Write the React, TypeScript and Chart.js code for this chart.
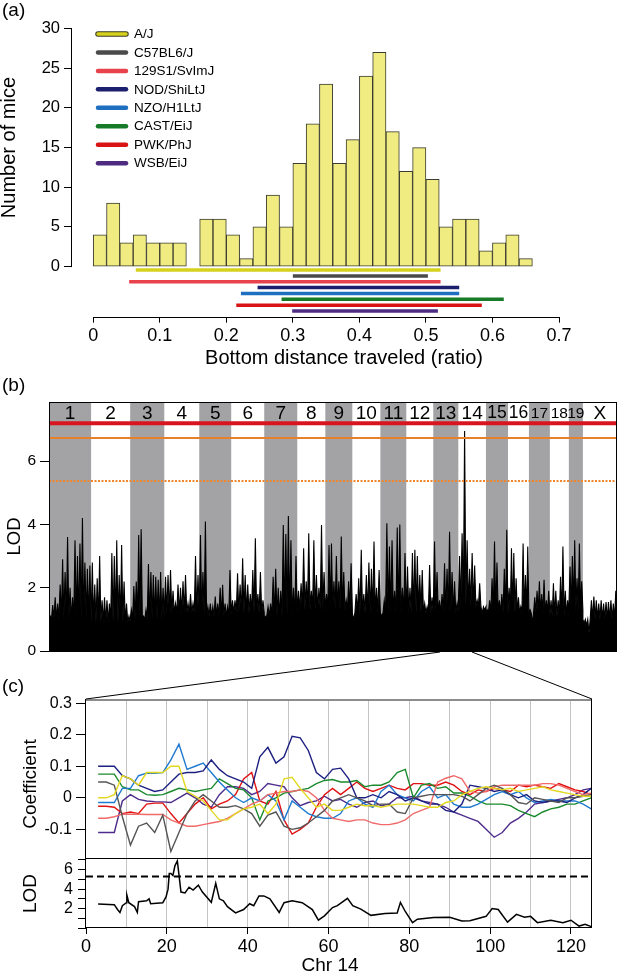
import React, { useEffect, useRef } from 'react';
import { Chart, registerables } from 'chart.js';

Chart.register(...registerables);

const FONT = "'Liberation Sans', Arial, Helvetica, sans-serif";

// ---------------- Panel (a): histogram + strain ranges ----------------
const histBinStart = 0;
const histBinWidth = 0.02;
const histCounts = [4, 8, 3, 4, 3, 3, 3, 0, 6, 6, 4, 1, 5, 9, 5, 13, 18, 23, 13, 16, 24, 27, 17, 12, 15, 11, 5, 6, 6, 2, 3, 4, 1];
const histXTicks = [0, 0.1, 0.2, 0.3, 0.4, 0.5, 0.6, 0.7];
const histYTicks = [0, 5, 10, 15, 20, 25, 30];
const strainNames = ['A/J', 'C57BL6/J', '129S1/SvImJ', 'NOD/ShiLtJ', 'NZO/H1LtJ', 'CAST/EiJ', 'PWK/PhJ', 'WSB/EiJ'];
const strainColors = ['#d6d11c', '#4a4a4a', '#e8434d', '#1c1f6e', '#1f6fc0', '#177a28', '#d81414', '#4c2b80'];
const strainRangeStart = [0.064, 0.300, 0.054, 0.247, 0.222, 0.283, 0.215, 0.299];
const strainRangeEnd = [0.522, 0.503, 0.522, 0.550, 0.550, 0.617, 0.584, 0.518];

// ---------------- Panel (b): genome scan ----------------
const chrNames = ['1', '2', '3', '4', '5', '6', '7', '8', '9', '10', '11', '12', '13', '14', '15', '16', '17', '18', '19', 'X'];
const chrLengths = [195, 181, 158, 162, 148, 153, 153, 130, 125, 130, 120, 125, 116, 128, 102, 97, 97, 88, 65, 158];
const chrBaseLod = [1.0, 0.9, 1.0, 1.2, 1.1, 1.2, 1.1, 1.3, 1.3, 1.2, 1.2, 1.2, 1.2, 1.4, 1.2, 1.2, 1.2, 1.1, 1.3, 1.0];
const lodChr1 = [1.1, 1.45, 1.7, 1.5, 2.1, 2.9, 2.5, 3.6, 2.0, 1.7, 3.5, 3.0, 3.4, 4.2, 2.8, 2.6, 2.7];
const lodChr2 = [2.8, 2.1, 2.3, 3.0, 1.6, 1.7, 1.6, 1.5, 3.1, 3.0, 3.5, 2.4, 3.35, 2.2, 1.5, 1.1];
const lodChr3 = [1.3, 2.05, 2.2, 3.67, 3.85, 1.1, 1.3, 2.75, 2.5, 2.4, 2.35, 2.25, 2.5, 2.0];
const lodChr4 = [2.35, 2.4, 2.56, 1.9, 1.5, 2.1, 2.0, 2.2, 2.4, 1.5, 1.8, 1.5, 3.0, 2.4];
const lodChr5 = [3.67, 2.5, 4.09, 1.4, 1.5, 1.4, 1.72, 1.5, 2.0, 2.09, 1.5, 1.4, 2.56];
const lodChr6 = [1.6, 1.6, 2.46, 2.1, 2.93, 2.4, 2.1, 1.8, 2.56, 3.56, 1.8, 2.5, 1.6];
const lodChr7 = [1.1, 1.4, 1.5, 2.35, 2.6, 2.0, 1.9, 3.98, 3.7, 4.27, 3.5, 2.0, 3.0];
const lodChr8 = [1.9, 2.14, 3.25, 2.2, 3.72, 1.9, 3.5, 2.4, 2.0, 3.98, 2.5];
const lodChr9 = [1.8, 3.35, 3.4, 2.2, 3.0, 2.2, 3.62, 2.5, 1.6, 2.2, 2.77];
const lodChr10 = [1.0, 1.8, 2.3, 3.2, 1.8, 2.4, 2.8, 2.6, 3.46, 2.0, 2.56];
const lodChr11 = [1.1, 1.6, 4.04, 3.3, 3.5, 1.9, 3.9, 4.0, 2.0, 3.1];
const lodChr12 = [2.67, 2.0, 3.1, 3.2, 3.0, 2.4, 2.56, 1.5, 1.4, 2.72, 1.7];
const lodChr13 = [3.46, 2.5, 1.6, 1.8, 2.77, 2.6, 3.77, 2.5, 2.2, 1.5];
const lodChr14 = [3.0, 3.72, 6.95, 3.5, 2.6, 3.1, 2.7, 1.6, 2.14, 1.2, 1.3];
const lodChr15 = [1.3, 1.6, 2.3, 3.46, 2.8, 1.6, 1.8, 2.6, 3.83];
const lodChr16 = [2.0, 3.25, 3.1, 2.3, 1.7, 1.4, 3.4, 2.4, 3.3];
const lodChr17 = [1.3, 0.9, 1.7, 1.9, 2.2, 1.8, 2.25, 1.6, 1.9];
const lodChr18 = [1.6, 2.14, 1.9, 1.6, 2.35, 3.3, 1.9, 1.6];
const lodChr19 = [2.67, 3.0, 3.5, 2.3, 3.4, 2.2];
const lodChrX = [0.88, 0.8, 0.56, 1.6, 1.72, 1.6, 1.5, 1.6, 1.5, 1.55, 1.55, 1.6, 1.5, 1.9];
const lodByChr = [lodChr1, lodChr2, lodChr3, lodChr4, lodChr5, lodChr6, lodChr7, lodChr8, lodChr9, lodChr10,
  lodChr11, lodChr12, lodChr13, lodChr14, lodChr15, lodChr16, lodChr17, lodChr18, lodChr19, lodChrX];
const genomeYTicks = [0, 2, 4, 6];
const genomeThresholds = [7.2, 6.73, 5.37];

// ---------------- Panel (c): chr 14 coefficients + LOD ----------------
const coefPos = [3, 5, 7, 9, 11, 13, 15, 17, 19, 21, 23, 25, 27, 29, 31, 33, 35, 37, 39, 41, 43, 45, 47, 49, 51, 53, 55, 57, 59, 61,
  63, 65, 67, 69, 71, 73, 75, 77, 79, 81, 83, 85, 87, 89, 91, 93, 95, 97, 99, 101, 103, 105, 107, 109, 111, 113, 115, 117, 119, 121, 123, 125];
const coefAJ = [0.0, 0.0, 0.01, 0.07, 0.06, 0.04, 0.08, 0.08, 0.08, 0.1, 0.1, 0.02, 0.005, -0.01, -0.04, -0.07, -0.07, -0.05, -0.035, -0.03, -0.02, -0.05, -0.02, 0.06, 0.065, 0.03, 0.0, -0.03, -0.02, -0.04,
  -0.04, -0.03, -0.02, -0.025, -0.025, -0.03, -0.025, -0.02, -0.02, -0.02, -0.025, -0.03, -0.03, -0.015, -0.01, 0.01, 0.02, 0.03, 0.035, 0.03, 0.025, 0.03, 0.02, 0.025, 0.03, 0.035, 0.025, 0.02, 0.015, 0.01, 0.005, 0.005];
const coefB6 = [0.05, 0.05, 0.04, -0.06, -0.15, -0.09, -0.08, -0.11, -0.055, -0.17, -0.11, -0.05, -0.01, 0.01, -0.01, -0.03, -0.03, -0.025, -0.035, -0.05, -0.09, -0.055, -0.045, -0.09, -0.1, -0.095, -0.08, -0.06, -0.04, -0.01,
  0.0, 0.01, 0.0, -0.01, -0.025, -0.02, -0.02, -0.045, -0.05, 0.0, 0.005, 0.01, 0.01, 0.01, 0.01, 0.005, -0.01, 0.01, 0.03, 0.04, 0.03, 0.01, -0.015, -0.02, 0.0, -0.005, -0.01, -0.015, 0.0, 0.0, 0.005, 0.01];
const coef129 = [-0.065, -0.065, -0.06, -0.052, -0.052, -0.052, -0.053, -0.053, -0.053, -0.07, -0.08, -0.09, -0.09, -0.085, -0.08, -0.075, -0.065, -0.05, -0.035, -0.02, -0.01, 0.01, 0.015, 0.02, 0.02, 0.025, 0.02, 0.0, -0.04, -0.065,
  -0.07, -0.075, -0.07, -0.07, -0.08, -0.085, -0.085, -0.08, -0.07, -0.05, -0.04, -0.03, 0.05, 0.062, 0.07, 0.06, 0.02, 0.015, 0.02, 0.035, 0.04, 0.04, 0.04, 0.04, 0.04, 0.045, 0.045, 0.04, 0.03, 0.02, 0.01, 0.015];
const coefNOD = [0.1, 0.1, 0.1, 0.07, 0.06, 0.04, 0.03, 0.02, 0.025, 0.05, 0.075, 0.08, 0.08, 0.085, 0.12, 0.09, 0.07, 0.06, 0.05, 0.03, 0.13, 0.16, 0.11, 0.13, 0.195, 0.19, 0.15, 0.08, 0.06, 0.09,
  0.094, 0.06, 0.0, 0.0, 0.01, 0.0, 0.02, 0.01, -0.01, 0.0, -0.01, -0.02, -0.02, -0.04, -0.045, -0.02, 0.04, 0.035, 0.03, 0.02, 0.025, 0.01, 0.0, 0.01, -0.01, -0.015, -0.01, -0.01, -0.015, 0.0, 0.01, 0.03];
const coefNZO = [-0.015, -0.015, -0.015, 0.03, 0.03, 0.07, 0.078, 0.078, 0.08, 0.12, 0.17, 0.09, 0.1, 0.11, 0.08, 0.05, 0.025, 0.0, -0.015, 0.0, -0.01, 0.01, -0.01, -0.07, -0.01, -0.03, -0.05, -0.06, -0.065, -0.065,
  -0.05, -0.01, 0.0, -0.02, -0.03, 0.02, 0.04, 0.01, 0.0, -0.01, 0.02, 0.035, 0.0, 0.01, -0.02, -0.03, -0.03, -0.02, -0.005, 0.01, 0.02, 0.01, 0.02, 0.0, -0.015, -0.01, -0.005, -0.01, -0.01, -0.01, -0.02, -0.035];
const coefCAST = [0.075, 0.075, 0.075, 0.035, 0.025, 0.025, 0.01, 0.008, 0.01, 0.02, 0.03, 0.025, 0.02, 0.025, 0.03, 0.06, 0.045, 0.03, 0.025, 0.0, -0.07, -0.01, 0.0, 0.015, 0.02, 0.025, 0.03, 0.045, 0.055, 0.058,
  0.05, 0.05, 0.055, 0.035, 0.04, 0.04, 0.05, 0.08, 0.09, 0.0, 0.04, 0.045, 0.03, 0.035, 0.015, 0.015, 0.005, -0.01, -0.02, -0.02, -0.02, -0.025, -0.04, -0.05, -0.06, -0.045, -0.035, -0.03, -0.02, -0.02, -0.01, 0.0];
const coefPWK = [-0.027, -0.027, -0.03, -0.05, -0.045, -0.05, -0.02, -0.017, -0.017, -0.05, -0.08, -0.05, -0.02, 0.0, -0.035, -0.02, -0.01, 0.01, 0.06, 0.08, -0.01, -0.02, 0.02, -0.07, -0.115, -0.1, -0.08, -0.03, 0.01, 0.03,
  0.01, 0.03, 0.05, 0.03, 0.02, 0.03, 0.04, 0.03, 0.025, 0.045, 0.045, 0.04, 0.04, 0.05, 0.04, 0.02, 0.01, 0.025, 0.02, 0.03, 0.025, 0.02, 0.04, 0.035, 0.04, 0.035, 0.03, 0.045, 0.035, 0.025, 0.02, 0.01];
const coefWSB = [-0.11, -0.11, -0.11, -0.01, 0.01, -0.005, -0.01, -0.012, -0.013, -0.015, 0.0, 0.015, 0.0, -0.02, -0.03, 0.01, 0.035, 0.035, 0.03, 0.01, 0.02, 0.045, 0.04, 0.035, 0.0, -0.025, -0.015, -0.01, 0.005, -0.01,
  -0.005, -0.02, -0.03, -0.015, -0.01, -0.025, -0.02, 0.0, 0.0, 0.005, -0.01, -0.015, -0.02, -0.03, -0.045, -0.055, -0.065, -0.075, -0.1, -0.125, -0.11, -0.08, -0.065, -0.045, -0.02, -0.015, -0.01, -0.005, 0.0, 0.01, 0.025, 0.03];
const coefSeries = [coefAJ, coefB6, coef129, coefNOD, coefNZO, coefCAST, coefPWK, coefWSB];
const coefColors = ['#e2d820', '#555555', '#f06a6a', '#1c2080', '#1f7ad0', '#1a8a2c', '#e01212', '#4e2c8c'];
const coefYTicks = [-0.1, 0, 0.1, 0.2, 0.3];
const chr14Length = 125.2;
const chr14Grid = [10, 20, 30, 40, 50, 60, 70, 80, 90, 100, 110, 120];
const chr14XTicks = [0, 10, 20, 30, 40, 50, 60, 70, 80, 90, 100, 110, 120];
const lodChr14Pos = [3.0, 7.0, 7.8, 8.4, 9.0, 10.0, 10.1, 10.6, 12.0, 12.7, 13.0, 15.0, 15.6, 16.0, 19.0, 19.8, 20.3, 20.6, 21.0, 21.5, 22.0, 22.6, 23.0, 23.5, 24.5, 25.5, 26.5, 27.8, 28.8, 31.0, 32.1, 33.0, 34.0, 35.0, 37.0, 39.0, 40.5, 41.5, 42.8, 44.0, 45.5, 47.8, 49.0, 51.0, 53.5, 56.0, 57.5, 59.0, 61.0, 62.2, 64.7, 66.0, 68.0, 70.5, 74.0, 77.0, 77.8, 79.0, 80.8, 82.0, 86.0, 90.0, 93.0, 95.0, 99.0, 100.5, 102.0, 104.3, 106.5, 108.5, 110.0, 111.7, 115.0, 118.0, 120.0, 122.0, 123.5, 125.0];
const lodChr14Val = [2.47, 2.4, 1.9, 1.6, 2.3, 2.6, 3.4, 2.6, 2.2, 1.6, 2.7, 2.8, 3.0, 2.5, 2.6, 3.2, 4.0, 5.6, 5.6, 5.4, 6.4, 6.9, 5.5, 3.7, 3.6, 4.2, 3.9, 4.4, 3.7, 2.64, 4.6, 3.0, 2.8, 2.2, 1.55, 1.9, 2.5, 2.3, 3.3, 3.3, 3.0, 1.6, 2.6, 2.8, 2.6, 1.9, 0.8, 1.25, 2.1, 2.3, 3.05, 2.3, 1.94, 1.3, 1.5, 1.55, 2.64, 1.7, 0.55, 0.9, 1.08, 1.1, 0.73, 0.75, 1.2, 2.0, 1.9, 0.6, 1.4, 1.1, 1.2, 0.55, 0.8, 0.55, 0.8, 0.2, 0.38, 0.14];
const lodChr14Threshold = 5.3;
const lodChr14YTicks = [0, 1, 2, 3, 4, 5, 6, 7];
const lodChr14Labeled = [2, 4, 6];

// ---------------- helpers ----------------
const fmtTick = (v: number) => (v === 0 ? '0' : String(Math.round(v * 10) / 10));

function text(ctx: CanvasRenderingContext2D, s: string, x: number, y: number, size: number, align: CanvasTextAlign = 'center', rot = 0) {
  ctx.save();
  ctx.font = `${size}px ${FONT}`;
  ctx.fillStyle = '#000';
  ctx.textAlign = align;
  ctx.textBaseline = 'middle';
  ctx.translate(x, y);
  if (rot) ctx.rotate(rot);
  ctx.fillText(s, 0, 0);
  ctx.restore();
}

function line(ctx: CanvasRenderingContext2D, x0: number, y0: number, x1: number, y1: number, color = '#000', w = 1) {
  ctx.save();
  ctx.strokeStyle = color;
  ctx.lineWidth = w;
  ctx.beginPath();
  ctx.moveTo(x0, y0);
  ctx.lineTo(x1, y1);
  ctx.stroke();
  ctx.restore();
}

const fitY = (w: number) => (s: any) => { s.width = w; s.paddingTop = 0; s.paddingBottom = 0; };
const fitX = (h: number) => (s: any) => { s.height = h; s.paddingLeft = 0; s.paddingRight = 0; };

// ---------------- chart builders ----------------
function buildA(): any {
  const histData = histCounts.map((c, i) => ({ x: histBinStart + (i + 0.5) * histBinWidth, y: c === 0 ? null : c }));
  const strainSets = strainNames.map((name, i) => ({
    type: 'line',
    label: name,
    data: [{ x: strainRangeStart[i], y: -0.43 - 0.738 * i }, { x: strainRangeEnd[i], y: -0.43 - 0.738 * i }],
    borderColor: strainColors[i],
    borderWidth: 3.5,
    borderCapStyle: 'butt',
    pointRadius: 0,
    order: 0,
  }));
  const plugin = {
    id: 'panelA',
    afterDraw(chart: any) {
      const { ctx, chartArea, scales } = chart;
      const x = scales.x, y = scales.y;
      line(ctx, x.getPixelForValue(histXTicks[0]), Math.round(chartArea.bottom) + 0.5, x.getPixelForValue(histXTicks[histXTicks.length - 1]) + 0.5, Math.round(chartArea.bottom) + 0.5);
      line(ctx, Math.round(chartArea.left) - 0.5, y.getPixelForValue(histYTicks[0]) + 0.5, Math.round(chartArea.left) - 0.5, y.getPixelForValue(histYTicks[histYTicks.length - 1]) - 0.5);
      text(ctx, 'Number of mice', 9, (y.getPixelForValue(0) + y.getPixelForValue(30)) / 2, 20, 'center', -Math.PI / 2);
      text(ctx, 'Bottom distance traveled (ratio)', 344, 358, 20);
      text(ctx, '(a)', 2, 11, 19, 'left');
      strainNames.forEach((name, i) => {
        const ly = 34 + i * 18.45;
        ctx.save();
        ctx.lineCap = 'round';
        if (i === 0) {
          ctx.strokeStyle = '#3a3a20';
          ctx.lineWidth = 5.5;
          ctx.beginPath(); ctx.moveTo(98, ly); ctx.lineTo(126, ly); ctx.stroke();
          ctx.strokeStyle = strainColors[i];
          ctx.lineWidth = 3.5;
          ctx.beginPath(); ctx.moveTo(98, ly); ctx.lineTo(126, ly); ctx.stroke();
        } else {
          ctx.strokeStyle = strainColors[i];
          ctx.lineWidth = 4.5;
          ctx.beginPath(); ctx.moveTo(98, ly); ctx.lineTo(126, ly); ctx.stroke();
        }
        ctx.restore();
        text(ctx, name, 134, ly + 0.5, 13.5, 'left');
      });
    },
  };
  return {
    type: 'bar',
    data: {
      datasets: [
        {
          type: 'bar',
          label: 'hist',
          data: histData,
          backgroundColor: '#f0ec82',
          borderColor: '#3b3b2e',
          borderWidth: 1,
          borderSkipped: false,
          barPercentage: 1,
          categoryPercentage: 1,
          order: 1,
        },
        ...strainSets,
      ],
    },
    options: {
      responsive: false,
      animation: false,
      devicePixelRatio: 1,
      layout: { padding: { top: 28.5, right: 60, bottom: 0, left: 0 } },
      plugins: { legend: { display: false }, tooltip: { enabled: false } },
      scales: {
        x: {
          type: 'linear', min: -0.0319, max: 0.7, offset: false,
          afterBuildTicks: (s: any) => { s.ticks = histXTicks.map((v) => ({ value: v })); },
          afterFit: fitX(63.3),
          ticks: { autoSkip: false, maxRotation: 0, color: '#000', padding: 3, font: { family: FONT, size: 18 }, callback: (v: any) => fmtTick(Number(v)) },
          grid: { offset: false, drawOnChartArea: false, drawTicks: true, tickLength: 6, tickColor: '#000' },
          border: { display: false },
        },
        y: {
          type: 'linear', min: -6.31, max: 30,
          afterBuildTicks: (s: any) => { s.ticks = histYTicks.map((v) => ({ value: v })); },
          afterFit: fitY(72),
          ticks: { autoSkip: false, color: '#000', padding: 4, font: { family: FONT, size: 16.5 }, callback: (v: any) => String(v) },
          grid: { drawOnChartArea: false, drawTicks: true, tickLength: 8, tickColor: '#000' },
          border: { display: false },
        },
      },
    },
    plugins: [plugin],
  };
}

function buildB(): any {
  const chrStart: number[] = [];
  let acc = 0;
  chrLengths.forEach((l) => { chrStart.push(acc); acc += l; });
  const total = acc;
  const pts: { x: number; y: number }[] = [];
  lodByChr.forEach((peaks, c) => {
    const s = chrStart[c];
    const step = chrLengths[c] / peaks.length;
    peaks.forEach((p, i) => {
      pts.push({ x: s + i * step, y: chrBaseLod[c] });
      pts.push({ x: s + (i + 0.5) * step, y: p });
    });
    pts.push({ x: s + chrLengths[c], y: chrBaseLod[c] });
  });
  const thrStyle = [
    { color: '#d7141f', width: 4, dash: [] as number[] },
    { color: '#e8802a', width: 2, dash: [] as number[] },
    { color: '#f0862a', width: 2, dash: [2, 1.5] },
  ];
  const thrSets = genomeThresholds.map((t, i) => ({
    type: 'line',
    data: [{ x: 0, y: t }, { x: total, y: t }],
    borderColor: thrStyle[i].color,
    borderWidth: thrStyle[i].width,
    borderDash: thrStyle[i].dash,
    pointRadius: 0,
    order: 0,
  }));
  const plugin = {
    id: 'panelB',
    beforeDatasetsDraw(chart: any) {
      const { ctx, chartArea, scales } = chart;
      ctx.save();
      ctx.fillStyle = '#a3a3a5';
      chrLengths.forEach((l, c) => {
        if (c % 2 === 0) {
          const x0 = scales.x.getPixelForValue(chrStart[c]);
          const x1 = scales.x.getPixelForValue(chrStart[c] + l);
          ctx.fillRect(x0, chartArea.top, x1 - x0, chartArea.bottom - chartArea.top);
        }
      });
      ctx.restore();
    },
    afterDraw(chart: any) {
      const { ctx, chartArea, scales } = chart;
      chrNames.forEach((n, c) => {
        const cx = scales.x.getPixelForValue(chrStart[c] + chrLengths[c] / 2);
        const size = c >= 16 && c <= 18 ? 15.5 : c === 14 || c === 15 ? 17.5 : 19;
        text(ctx, n, cx, chartArea.top + 11.5, size);
      });
      ctx.save();
      ctx.strokeStyle = '#000';
      ctx.lineWidth = 1;
      ctx.strokeRect(Math.round(chartArea.left) + 0.5, Math.round(chartArea.top) + 0.5, Math.round(chartArea.right - chartArea.left) - 1, Math.round(chartArea.bottom - chartArea.top));
      ctx.restore();
      text(ctx, 'LOD', 15, (chartArea.top + chartArea.bottom) / 2 + 10, 18.5, 'center', -Math.PI / 2);
      text(ctx, '(b)', 2, 10, 19, 'left');
    },
  };
  return {
    type: 'line',
    data: {
      datasets: [
        ...thrSets,
        {
          type: 'line',
          data: pts,
          borderColor: '#000',
          backgroundColor: '#000',
          borderWidth: 1.1,
          fill: 'origin',
          pointRadius: 0,
          tension: 0,
          order: 1,
        },
      ],
    },
    options: {
      responsive: false,
      animation: false,
      devicePixelRatio: 1,
      layout: { padding: { top: 26, right: 2, bottom: 7, left: 0 } },
      plugins: { legend: { display: false }, tooltip: { enabled: false } },
      scales: {
        x: { type: 'linear', min: 0, max: total, display: false },
        y: {
          type: 'linear', min: 0, max: 7.87,
          afterBuildTicks: (s: any) => { s.ticks = genomeYTicks.map((v) => ({ value: v })); },
          afterFit: fitY(49),
          ticks: { autoSkip: false, color: '#000', padding: 4, font: { family: FONT, size: 15.5 }, callback: (v: any) => String(v) },
          grid: { drawOnChartArea: false, drawTicks: true, tickLength: 9, tickColor: '#000' },
          border: { display: false },
        },
      },
    },
    plugins: [plugin],
  };
}

function buildC1(): any {
  const sets = coefSeries.map((vals, i) => ({
    type: 'line',
    label: strainNames[i],
    data: vals.map((v, j) => ({ x: coefPos[j], y: v })),
    borderColor: coefColors[i],
    borderWidth: 1.4,
    pointRadius: 0,
    tension: 0,
    fill: false,
  }));
  const plugin = {
    id: 'panelC1',
    afterDraw(chart: any) {
      const { ctx, chartArea } = chart;
      const L = Math.round(chartArea.left) - 0.5, R = Math.round(chartArea.right) - 0.5;
      const T = Math.round(chartArea.top), B = Math.round(chartArea.bottom) - 0.5;
      line(ctx, L, T, R, T, '#8c8c8c', 2);
      line(ctx, L, T - 1, L, B + 1);
      line(ctx, R, T - 1, R, B + 1);
      line(ctx, L, B, R, B);
      line(ctx, 440, 4, chartArea.left, chartArea.top - 1);
      line(ctx, 472, 4, chartArea.right, chartArea.top - 1);
      text(ctx, 'Coefficient', 31, 136, 19, 'center', -Math.PI / 2);
      text(ctx, '(c)', 2, 39, 19, 'left');
    },
  };
  return {
    type: 'line',
    data: { datasets: sets },
    options: {
      responsive: false,
      animation: false,
      devicePixelRatio: 1,
      layout: { padding: { top: 52, right: 27, bottom: 1, left: 0 } },
      plugins: { legend: { display: false }, tooltip: { enabled: false } },
      scales: {
        x: {
          type: 'linear', min: 0, max: chr14Length,
          afterBuildTicks: (s: any) => { s.ticks = chr14Grid.map((v) => ({ value: v })); },
          afterFit: fitX(0),
          ticks: { display: false },
          grid: { drawOnChartArea: true, drawTicks: false, color: '#c4c4c4', lineWidth: 1 },
          border: { display: false },
        },
        y: {
          type: 'linear', min: -0.194, max: 0.31,
          afterBuildTicks: (s: any) => { s.ticks = coefYTicks.map((v) => ({ value: v })); },
          afterFit: fitY(86),
          ticks: { autoSkip: false, color: '#000', padding: 4, font: { family: FONT, size: 16 }, callback: (v: any) => fmtTick(Number(v)) },
          grid: { drawOnChartArea: false, drawTicks: true, tickLength: 10, tickColor: '#000' },
          border: { display: false },
        },
      },
    },
    plugins: [plugin],
  };
}

function buildC2(): any {
  const plugin = {
    id: 'panelC2',
    afterDraw(chart: any) {
      const { ctx, chartArea } = chart;
      const L = Math.round(chartArea.left) - 0.5, R = Math.round(chartArea.right) - 0.5;
      const T = Math.round(chartArea.top), B = Math.round(chartArea.bottom) - 0.5;
      line(ctx, L, T, L, B + 0.5);
      line(ctx, R, T, R, B + 0.5);
      line(ctx, L, B, R, B);
      text(ctx, 'LOD', 31, (chartArea.top + chartArea.bottom) / 2, 19, 'center', -Math.PI / 2);
      text(ctx, 'Chr 14', 330, 111, 19);
    },
  };
  return {
    type: 'line',
    data: {
      datasets: [
        {
          type: 'line',
          data: [{ x: 0, y: lodChr14Threshold }, { x: chr14Length, y: lodChr14Threshold }],
          borderColor: '#000',
          borderWidth: 2.2,
          borderDash: [7, 4],
          pointRadius: 0,
          order: 0,
        },
        {
          type: 'line',
          data: lodChr14Val.map((v, i) => ({ x: lodChr14Pos[i], y: v })),
          borderColor: '#000',
          borderWidth: 1.5,
          pointRadius: 0,
          tension: 0,
          order: 1,
        },
      ],
    },
    options: {
      responsive: false,
      animation: false,
      devicePixelRatio: 1,
      layout: { padding: { top: 4, right: 27, bottom: 0, left: 0 } },
      plugins: { legend: { display: false }, tooltip: { enabled: false } },
      scales: {
        x: {
          type: 'linear', min: 0, max: chr14Length,
          afterBuildTicks: (s: any) => { s.ticks = chr14XTicks.map((v) => ({ value: v })); },
          afterFit: fitX(47),
          ticks: { autoSkip: false, maxRotation: 0, color: '#000', padding: 2, font: { family: FONT, size: 18 }, callback: (v: any) => (Number(v) % 20 === 0 ? String(v) : '') },
          grid: {
            drawOnChartArea: true, drawTicks: true, tickLength: 6,
            color: (c: any) => (c.tick && c.tick.value === 0 ? 'rgba(0,0,0,0)' : '#c4c4c4'),
            tickColor: (c: any) => (c.tick && c.tick.value % 20 === 0 ? '#000' : 'rgba(0,0,0,0)'),
          },
          border: { display: false },
        },
        y: {
          type: 'linear', min: 0, max: 7.1,
          afterBuildTicks: (s: any) => { s.ticks = lodChr14YTicks.map((v) => ({ value: v })); },
          afterFit: fitY(86),
          ticks: { autoSkip: false, color: '#000', padding: 5, font: { family: FONT, size: 16 }, callback: (v: any) => (lodChr14Labeled.includes(Number(v)) ? String(v) : '') },
          grid: { drawOnChartArea: false, drawTicks: true, tickLength: 8, tickColor: '#000' },
          border: { display: false },
        },
      },
    },
    plugins: [plugin],
  };
}

export default function App() {
  const aRef = useRef<HTMLCanvasElement>(null);
  const bRef = useRef<HTMLCanvasElement>(null);
  const c1Ref = useRef<HTMLCanvasElement>(null);
  const c2Ref = useRef<HTMLCanvasElement>(null);

  useEffect(() => {
    const charts: Chart[] = [];
    charts.push(new Chart(aRef.current as HTMLCanvasElement, buildA()));
    charts.push(new Chart(bRef.current as HTMLCanvasElement, buildB()));
    charts.push(new Chart(c1Ref.current as HTMLCanvasElement, buildC1()));
    charts.push(new Chart(c2Ref.current as HTMLCanvasElement, buildC2()));
    return () => charts.forEach((c) => c.destroy());
  }, []);

  const abs = (top: number, h: number): React.CSSProperties => ({ position: 'absolute', left: 0, top, width: 619, height: h });

  return (
    <div style={{ position: 'absolute', left: 0, top: 0, width: 619, height: 975, background: '#fff', overflow: 'hidden' }}>
      <canvas ref={aRef} width={619} height={380} style={abs(0, 380)} />
      <canvas ref={bRef} width={619} height={282} style={abs(376, 282)} />
      <canvas ref={c1Ref} width={619} height={212} style={abs(648, 212)} />
      <canvas ref={c2Ref} width={619} height={120} style={abs(855, 120)} />
    </div>
  );
}
